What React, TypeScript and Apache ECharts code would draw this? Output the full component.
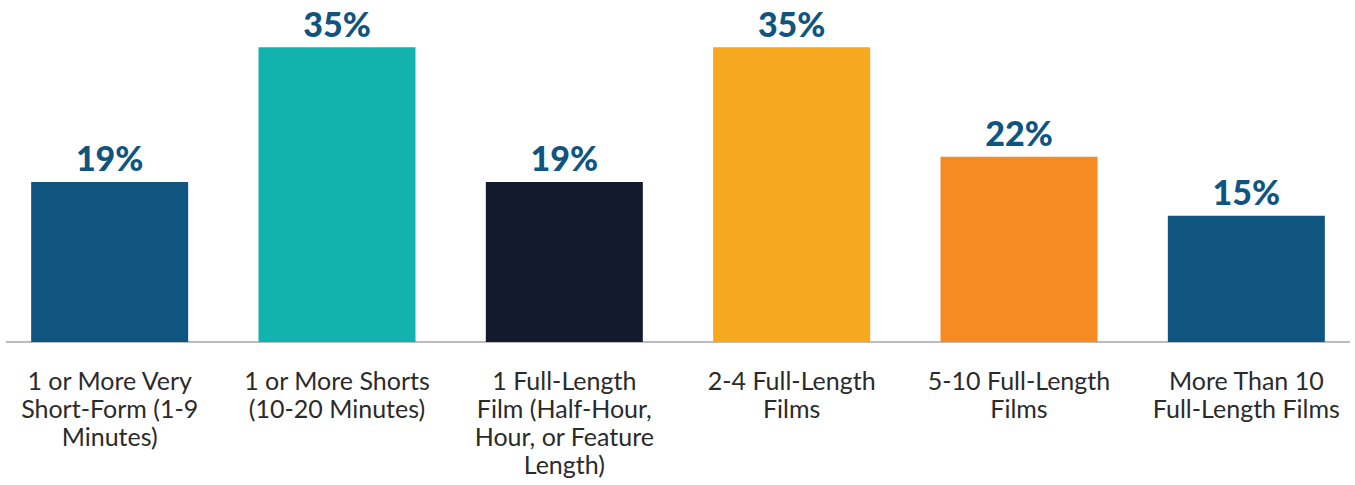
import React, { useEffect, useRef } from "react";
import * as echarts from "echarts";

const categories = [
  "1 or More Very\nShort-Form (1-9\nMinutes)",
  "1 or More Shorts\n(10-20 Minutes)",
  "1 Full-Length\nFilm (Half-Hour,\nHour, or Feature\nLength)",
  "2-4 Full-Length\nFilms",
  "5-10 Full-Length\nFilms",
  "More Than 10\nFull-Length Films",
];
const values = [19, 35, 19, 35, 22, 15];
const colors = ["#0f5580", "#12b2ae", "#131a2e", "#f6a81e", "#f58b22", "#0f5580"];

export default function App() {
  const ref = useRef<HTMLDivElement>(null);
  useEffect(() => {
    const chart = echarts.init(ref.current!, null, { renderer: "svg" });
    chart.setOption({
      animation: false,
      grid: { left: 0, right: 0, top: 5, bottom: 143, containLabel: false },
      xAxis: {
        type: "category",
        data: categories,
        axisLine: { show: false },
        axisTick: { show: false },
        axisLabel: {
          interval: 0,
          margin: 24,
          fontFamily: "Lato",
          fontSize: 25,
          lineHeight: 28,
          color: "#2b2b2b",
        },
      },
      yAxis: { type: "value", min: 0, max: 40, show: false, splitLine: { show: false } },
      series: [
        {
          type: "bar",
          barWidth: 157,
          data: values.map((v, i) => ({ value: v, itemStyle: { color: colors[i] } })),
          label: {
            show: true,
            position: "top",
            distance: 7,
            formatter: "{c}%",
            fontFamily: "Lato",
            fontWeight: 900,
            fontSize: 34,
            color: "#0f5580",
          },
        },
      ],
      graphic: [
        {
          type: "line",
          shape: { x1: 10, y1: 342, x2: 1354, y2: 342 },
          style: { stroke: "#a6a6a6", lineWidth: 1.5 },
        },
      ],
    });
    return () => chart.dispose();
  }, []);
  return (
    <div
      ref={ref}
      style={{ position: "absolute", left: -4, top: 0, width: 1364, height: 485 }}
    />
  );
}
